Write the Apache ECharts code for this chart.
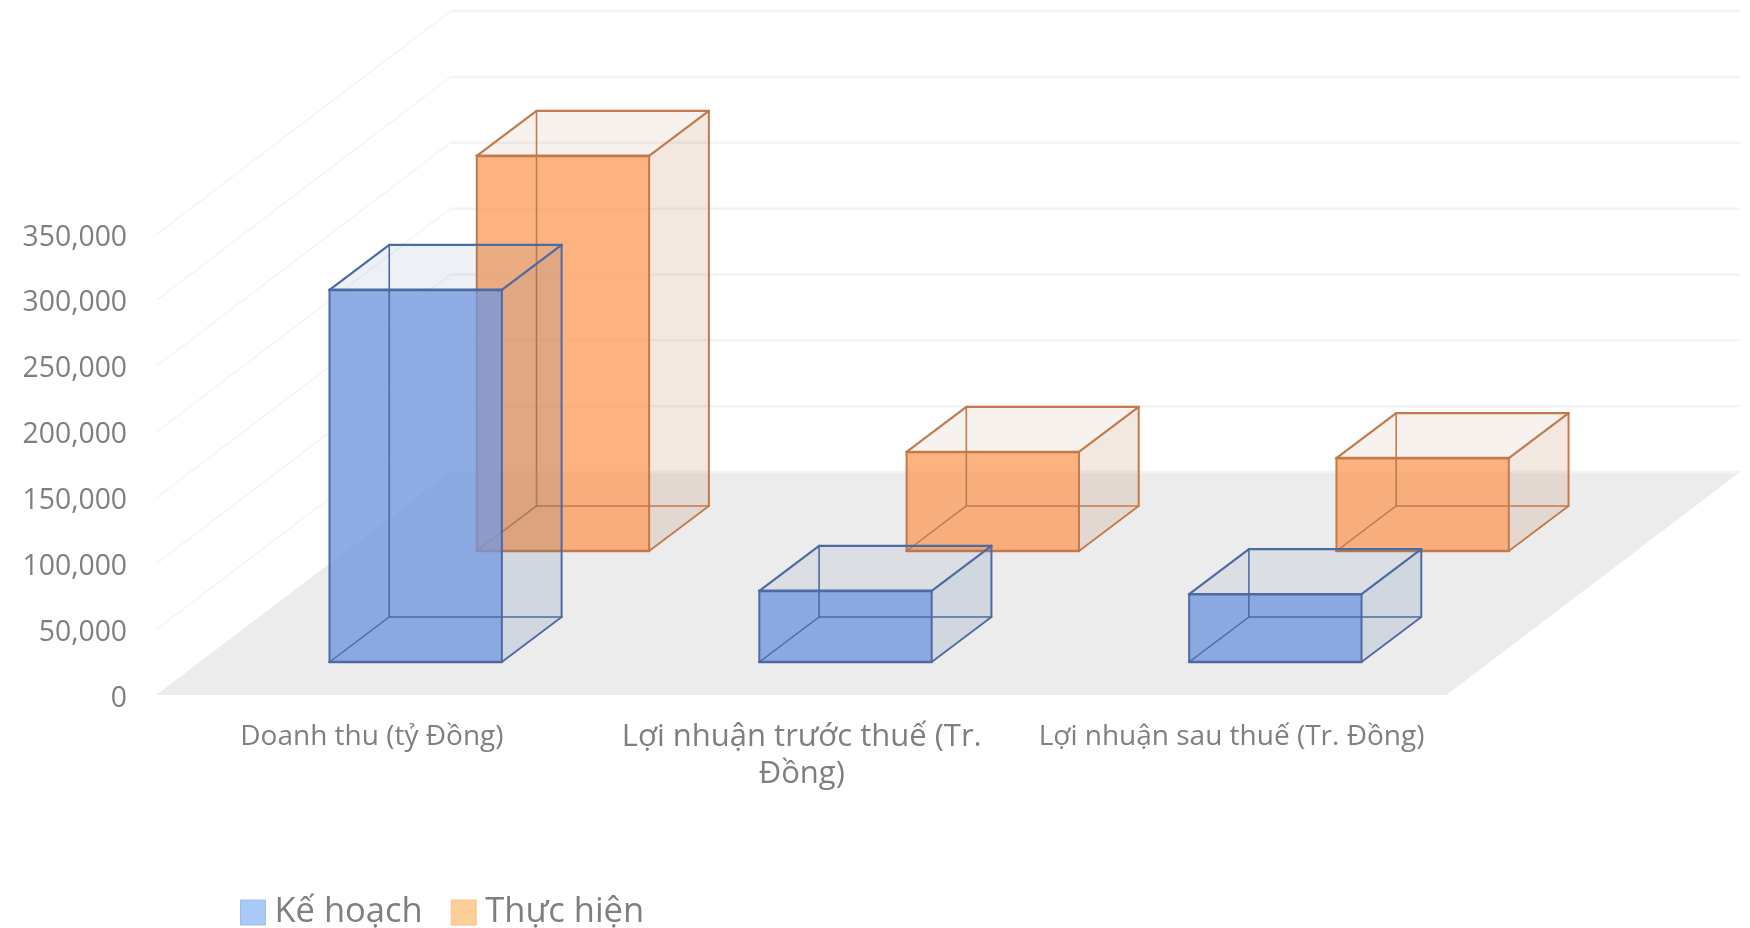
<!DOCTYPE html>
<html>
<head>
<meta charset="utf-8">
<title>Kế hoạch và thực hiện</title>
<style>html,body{margin:0;padding:0;background:#fff}#chart{width:1750px;height:928px}</style>
<script src="https://cdn.jsdelivr.net/npm/echarts@6/dist/echarts.min.js"></script>
</head>
<body>
<div id="chart"></div>
<script>
// Category labels; the line break sets where the long label wraps.
const categories = ['Doanh thu (tỷ Đồng)', 'Lợi nhuận trước thuế (Tr.\nĐồng)', 'Lợi nhuận sau thuế (Tr. Đồng)'];
const labelStyles = ['small', 'large', 'small'];
const planValues = [282500, 54000, 51500];
const actualValues = [300000, 75200, 70500];
const valueTicks = [0, 50000, 100000, 150000, 200000, 250000, 300000, 350000];

const TEXT = '#7f7f7f';
const FONT = '"Open Sans", sans-serif';

// Oblique projection: depth runs from 0 (front of floor) to 1 (back wall),
// measured as fractions of one category band.
const DEPTH_X = 0.688;
const DEPTH_Y = 0.5186;
const WALL_DEPTH_X = 0.683;
const BAR_WIDTH = 0.401;

function boxRenderer(depthFront, depthBack, look) {
  return function (params, api) {
    const band = api.size([1, 0])[0];
    const base = api.coord([api.value(0), 0]);
    const top = api.coord([api.value(0), api.value(1)]);
    const halfW = band * BAR_WIDTH / 2;
    const at = (side, y, d) => [
      base[0] + side * halfW + d * DEPTH_X * band,
      y - d * DEPTH_Y * band
    ];
    const fb = [at(-1, base[1], depthFront), at(1, base[1], depthFront)];
    const ft = [at(-1, top[1], depthFront), at(1, top[1], depthFront)];
    const bb = [at(-1, base[1], depthBack), at(1, base[1], depthBack)];
    const bt = [at(-1, top[1], depthBack), at(1, top[1], depthBack)];
    const face = (pts, fill) => ({
      type: 'polygon', shape: { points: pts }, style: { fill: fill, stroke: null }
    });
    const edge = (a, b, w) => ({
      type: 'line',
      shape: { x1: a[0], y1: a[1], x2: b[0], y2: b[1] },
      style: { stroke: look.edge, lineWidth: w, lineCap: 'round' }
    });
    return {
      type: 'group',
      children: [
        face([ft[0], ft[1], bt[1], bt[0]], look.top),
        face([fb[1], ft[1], bt[1], bb[1]], look.side),
        edge(bt[0], bt[1], 2.2), edge(bb[1], bt[1], 2),
        face([fb[0], fb[1], ft[1], ft[0]], look.front),
        // Hidden edges stay visible through the glass front face.
        edge(bt[0], bb[0], 1.6), edge(bb[0], bb[1], 1.6), edge(fb[0], bb[0], 1.5),
        edge(ft[0], bt[0], 2.2), edge(ft[1], bt[1], 2.2),
        edge(fb[1], bb[1], 1.8),
        edge(ft[0], ft[1], 2.6), edge(fb[0], fb[1], 2.6),
        edge(fb[0], ft[0], 2), edge(fb[1], ft[1], 2)
      ]
    };
  };
}

function floorRenderer(params, api) {
  const c = params.coordSys;
  const y0 = api.coord([0, 0])[1];
  const dx = c.width / 3 * WALL_DEPTH_X;
  const dy = c.width / 3 * DEPTH_Y;
  return {
    type: 'polygon',
    shape: { points: [[c.x, y0], [c.x + c.width, y0], [c.x + c.width + dx, y0 - dy], [c.x + dx, y0 - dy]] },
    style: { fill: '#ececec', stroke: null }
  };
}

function gridRenderer(params, api) {
  const c = params.coordSys;
  const y = api.coord([0, api.value(1)])[1];
  const dx = c.width / 3 * WALL_DEPTH_X;
  const dy = c.width / 3 * DEPTH_Y;
  return {
    type: 'group',
    children: [
      { type: 'line', shape: { x1: c.x, y1: y, x2: c.x + dx, y2: y - dy },
        style: { stroke: '#ececec', lineWidth: 1 } },
      { type: 'line', shape: { x1: c.x + dx, y1: y - dy, x2: c.x + c.width + dx, y2: y - dy },
        style: { stroke: '#f3f3f3', lineWidth: 2.5 } }
    ]
  };
}

const planLook = { front: 'rgba(112,150,222,0.78)', side: 'rgba(60,100,150,0.15)', top: 'rgba(60,100,150,0.09)', edge: '#4e6aa3' };
const actualLook = { front: 'rgba(252,150,80,0.72)', side: 'rgba(190,130,90,0.18)', top: 'rgba(190,130,90,0.1)', edge: '#c27a4b' };

const chart = echarts.init(document.getElementById('chart'), null, { renderer: 'canvas' });
chart.setOption({
  animation: false,
  backgroundColor: '#ffffff',
  grid: { left: 157, right: 303.5, top: 234, bottom: 233, containLabel: false },
  legend: {
    left: 240, top: 895, itemWidth: 25, itemHeight: 25, itemGap: 28, padding: 0,
    selectedMode: false,
    textStyle: { color: TEXT, fontFamily: FONT, fontSize: 34.5, padding: [0, 0, 0, 4] },
    data: [
      { name: 'Kế hoạch', icon: 'rect', itemStyle: { color: '#a9c9f6', borderColor: '#9dbdec', borderWidth: 1 } },
      { name: 'Thực hiện', icon: 'rect', itemStyle: { color: '#fdd09a', borderColor: '#f6c48c', borderWidth: 1 } }
    ]
  },
  xAxis: {
    type: 'category',
    data: categories,
    axisLine: { show: false },
    axisTick: { show: false },
    splitLine: { show: false },
    axisLabel: {
      interval: 0,
      margin: 24,
      hideOverlap: false,
      formatter: function (value, index) {
        return value.split('\n').map(line => '{' + labelStyles[index] + '|' + line + '}').join('\n');
      },
      rich: {
        small: { fontSize: 28, fontFamily: FONT, color: TEXT, lineHeight: 37 },
        large: { fontSize: 31, fontFamily: FONT, color: TEXT, lineHeight: 37 }
      }
    }
  },
  yAxis: {
    type: 'value',
    min: 0,
    max: 350000,
    interval: 50000,
    axisLine: { show: false },
    axisTick: { show: false },
    splitLine: { show: false },
    axisLabel: {
      margin: 30,
      color: TEXT,
      fontFamily: FONT,
      fontSize: 28.3,
      // A short line box hung from the tick sits the digits just below it.
      verticalAlign: 'top',
      lineHeight: 7,
      formatter: v => v.toLocaleString('en-US')
    }
  },
  series: [
    { type: 'custom', name: 'floor', silent: true, z: 1, renderItem: floorRenderer,
      encode: { x: 0, y: 1 }, data: [[0, 0]] },
    { type: 'custom', name: 'gridlines', silent: true, z: 2, renderItem: gridRenderer,
      encode: { x: 0, y: 1 }, data: valueTicks.map(v => [0, v]) },
    { type: 'custom', name: 'Kế hoạch', z: 5, renderItem: boxRenderer(0.148, 0.35, planLook),
      encode: { x: 0, y: 1 }, itemStyle: { color: '#a9c9f6' },
      data: planValues.map((v, i) => [i, v]) },
    { type: 'custom', name: 'Thực hiện', z: 4, renderItem: boxRenderer(0.646, 0.848, actualLook),
      encode: { x: 0, y: 1 }, itemStyle: { color: '#fdd09a' },
      data: actualValues.map((v, i) => [i, v]) }
  ]
});
</script>
</body>
</html>
